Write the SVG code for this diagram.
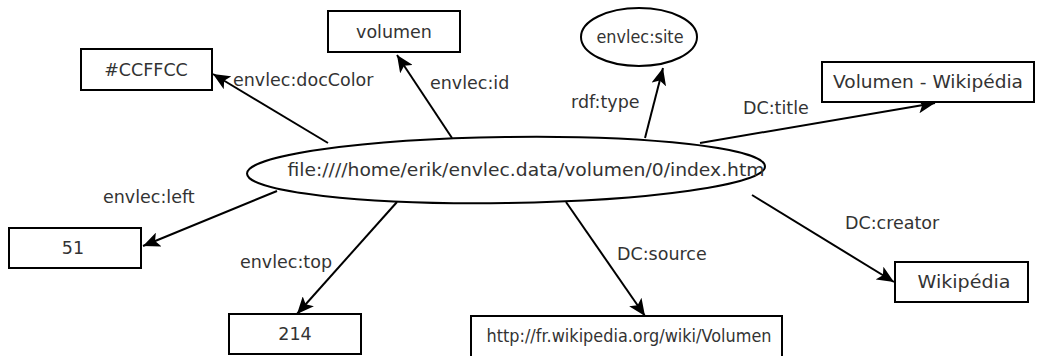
<svg xmlns="http://www.w3.org/2000/svg" width="1042" height="356" viewBox="0 0 1042 356">
<style>
.box{fill:#fff;stroke:#000;stroke-width:2}
.lbl{font-family:"DejaVu Sans",sans-serif;font-size:17.5px;fill:#333}
.sm{font-size:17px}
.c{text-anchor:middle;dominant-baseline:central}
.edge{stroke:#000;stroke-width:2;fill:none;marker-end:url(#arr)}
</style>
<defs>
<marker id="arr" markerUnits="userSpaceOnUse" markerWidth="19" markerHeight="15" refX="17" refY="7.5" orient="auto">
<path d="M0,0 L17,7.5 L0,15 L4,7.5 z" fill="#000"/>
</marker>
</defs>
<rect width="1042" height="356" fill="#fff"/>
<g id="connectors">
<line class="edge" x1="328" y1="143" x2="213" y2="74"/>
<line class="edge" x1="452" y1="138" x2="397" y2="55"/>
<line class="edge" x1="645" y1="138" x2="663" y2="68"/>
<line class="edge" x1="700" y1="143" x2="935" y2="103"/>
<line class="edge" x1="277" y1="191" x2="143" y2="246"/>
<line class="edge" x1="397" y1="202" x2="297" y2="314"/>
<line class="edge" x1="566" y1="202" x2="645" y2="316"/>
<line class="edge" x1="752" y1="195" x2="894" y2="282"/>
<text class="lbl" x="233" y="86">envlec:docColor</text>
<text class="lbl" x="430" y="89">envlec:id</text>
<text class="lbl" x="571" y="108">rdf:type</text>
<text class="lbl" x="743" y="114">DC:title</text>
<text class="lbl" x="103" y="203">envlec:left</text>
<text class="lbl" x="240" y="268">envlec:top</text>
<text class="lbl" x="617" y="260">DC:source</text>
<text class="lbl" x="845" y="229">DC:creator</text>
</g>
<g id="main">
<ellipse cx="506" cy="170" rx="259" ry="33" transform="rotate(-0.8 506 170)" fill="#fff" stroke="#000" stroke-width="2"/>
<text class="lbl c" x="526" y="170" textLength="477" lengthAdjust="spacingAndGlyphs">file:////home/erik/envlec.data/volumen/0/index.htm</text>
</g>
<g id="volumen"><rect class="box" x="328" y="11" width="132" height="41"/><text class="lbl c" x="394" y="32">volumen</text></g>
<g id="doccolor"><rect class="box" x="81" y="49" width="131" height="41"/><text class="lbl c" x="146" y="70">#CCFFCC</text></g>
<g id="site"><ellipse cx="639" cy="37" rx="58" ry="29" fill="#fff" stroke="#000" stroke-width="2"/><text class="lbl sm c" x="640" y="37" textLength="87" lengthAdjust="spacingAndGlyphs">envlec:site</text></g>
<g id="title"><rect class="box" x="822" y="62" width="212" height="40"/><text class="lbl c" x="928" y="82" textLength="190" lengthAdjust="spacingAndGlyphs">Volumen - Wikipédia</text></g>
<g id="left"><rect class="box" x="9" y="228" width="132" height="40"/><text class="lbl c" x="73" y="248">51</text></g>
<g id="top"><rect class="box" x="229" y="314" width="132" height="40"/><text class="lbl c" x="295" y="334">214</text></g>
<g id="source"><rect class="box" x="471" y="316" width="311" height="41"/><text class="lbl sm c" x="629" y="336" textLength="285" lengthAdjust="spacingAndGlyphs">http://fr.wikipedia.org/wiki/Volumen</text></g>
<g id="creator"><rect class="box" x="895" y="262" width="133" height="40"/><text class="lbl c" x="964" y="282" textLength="93" lengthAdjust="spacingAndGlyphs">Wikipédia</text></g>
</svg>
